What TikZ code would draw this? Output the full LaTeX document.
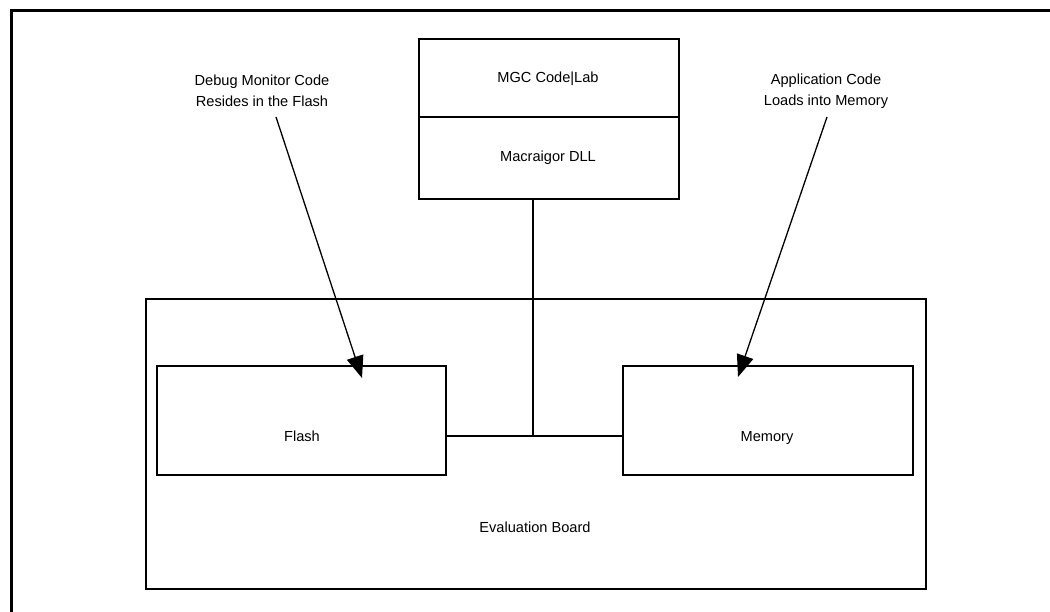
\documentclass[tikz,border=0pt]{standalone}
\usepackage{fontspec}
\setmainfont{Liberation Sans}
\usetikzlibrary{arrows.meta}
\begin{document}
\begin{tikzpicture}[x=1pt,y=-1pt,
  box/.style={draw, line width=2pt, minimum width=0pt, inner sep=0pt},
  lbl/.style={font=\fontsize{14.6}{21}\selectfont, align=center, inner sep=0pt},
  one/.style={lbl, anchor=base},
  conn/.style={line width=2pt},
  pointer/.style={line width=1.3pt, -{Triangle[length=22pt,width=17pt]}}]
\useasboundingbox (0,0) rectangle (1050,612);
% frame (left and top edges only)
\draw[line width=3pt] (11,612) -- (11,11) -- (1050,11);
% top stack
\node[box, minimum width=260pt, minimum height=78pt, anchor=north west] (mgc) at (418,38) {};
\node[box, minimum width=260pt, minimum height=82pt, anchor=north west] (dll) at (418,116) {};
\node[one] (mgct) at (548,83) {MGC Code|Lab};
\node[one] (dllt) at (548,162) {Macraigor DLL};
% evaluation board
\node[box, minimum width=780pt, minimum height=290pt, anchor=north west] (board) at (145,298) {};
\node[one] (boardt) at (535,532) {Evaluation Board};
% flash & memory
\node[box, minimum width=289pt, minimum height=109pt, anchor=north west] (flash) at (156,365) {};
\node[one] (flasht) at (302,441) {Flash};
\node[box, minimum width=290pt, minimum height=109pt, anchor=north west] (mem) at (622,365) {};
\node[one] (memt) at (767,441) {Memory};
% connectors
\coordinate (junc) at (533,436);
\draw[conn] (flash.east |- junc) -- (mem.west |- junc);
\draw[conn] (dll.south -| junc) -- (junc);
% labels with arrows
\node[lbl] (dbg) at (262,91) {Debug Monitor Code\\Resides in the Flash};
\node[lbl] (app) at (826,91) {Application Code\\Loads into Memory};
\coordinate (ft) at (362,378);
\coordinate (mt) at (738,377);
\draw[pointer] (276,117) -- (ft);
\draw[pointer] (827,117) -- (mt);
\end{tikzpicture}
\end{document}
